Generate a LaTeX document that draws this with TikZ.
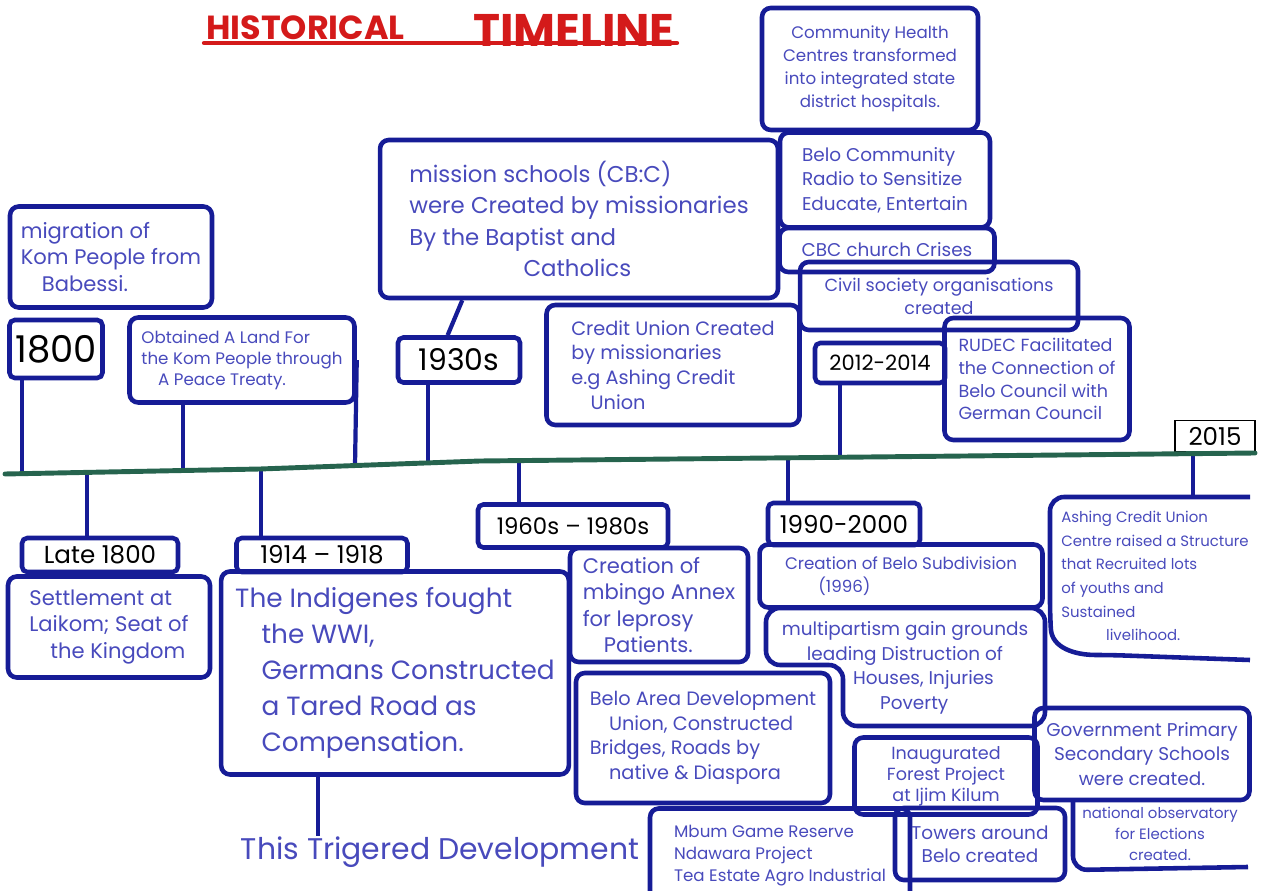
\documentclass[tikz,border=0pt]{standalone}
\usepackage{fontspec}
\setmainfont{Poppins}
\usetikzlibrary{calc}
\definecolor{inkblue}{RGB}{22,28,150}
\definecolor{penblue}{RGB}{72,74,188}
\definecolor{axisgreen}{RGB}{38,100,78}
\definecolor{titlered}{RGB}{212,26,26}

\begin{document}
\begin{tikzpicture}[x=0.02cm,y=-0.02cm,
  evbox/.style={draw=inkblue, line width=2.6pt, rounded corners=5pt, text=penblue, inner sep=3pt, align=left, font=\fontsize{11}{14}\selectfont},
  evline/.style={draw=inkblue, line width=2.6pt, rounded corners=8pt},
  evtext/.style={text=penblue, inner sep=0pt, align=center, font=\fontsize{10}{14}\selectfont},
  yearbox/.style={draw=inkblue, line width=2.6pt, rounded corners=3pt, text=black, inner sep=1pt, font=\fontsize{14}{15}\selectfont},
  link/.style={draw=inkblue, line width=2.4pt},
  timeaxis/.style={draw=axisgreen, line width=2.8pt, line cap=round}]
\useasboundingbox (0,0) rectangle (1261,891);

% title
\node[font=\fontsize{19}{19}\selectfont\bfseries, text=titlered, anchor=south west, inner sep=0pt] (histw) at (206,40) {HISTORICAL};
\node[font=\fontsize{26}{26}\selectfont\bfseries, text=titlered, anchor=south east, inner sep=0pt] (timew) at (675,47) {TIMELINE};
\draw[titlered, line width=2.4pt, line cap=round] ($(histw.south west)+(-2,3)$) -- ($(timew.south east)+(2,-4)$);

% above the line
\node[evbox, minimum width=4.04cm, minimum height=2.02cm, font=\fontsize{12}{15}\selectfont] (migr) at (111,257) {migration of\\Kom People from\\\quad Babessi.};
\node[yearbox, minimum width=1.86cm, minimum height=1.16cm, font=\fontsize{21}{21}\selectfont] (y1800) at (56,349) {1800};
\node[evbox, minimum width=4.5cm, minimum height=1.7cm, font=\fontsize{9.5}{12}\selectfont] (treaty) at (242,360) {Obtained A Land For\\the Kom People through\\\quad A Peace Treaty.};
\node[evbox, minimum width=7.96cm, minimum height=3.16cm, font=\fontsize{13}{18}\selectfont] (mission) at (579,219) {mission schools (CB:C)\\were Created by missionaries\\By the Baptist and\\\hspace{5em}Catholics};
\node[yearbox, minimum width=2.44cm, minimum height=0.9cm, font=\fontsize{17}{17}\selectfont] (y1930) at (459,360) {1930s};
\node[evbox, minimum width=5.06cm, minimum height=2.4cm] (credit) at (673,365) {Credit Union Created\\by missionaries\\e.g Ashing Credit\\\quad Union};
\node[evbox, minimum width=4.32cm, minimum height=2.44cm, align=center, font=\fontsize{9.5}{13}\selectfont] (health) at (870,69) {Community Health\\Centres transformed\\into integrated state\\district hospitals.};
\node[evbox, minimum width=4.2cm, minimum height=1.9cm, font=\fontsize{10.5}{14}\selectfont] (radio) at (885,180) {Belo Community\\Radio to Sensitize\\Educate, Entertain};
\node[evbox, minimum width=4.3cm, minimum height=0.88cm, font=\fontsize{10.5}{12}\selectfont] (cbc) at (887,250) {CBC church Crises};
\node[evbox, minimum width=5.56cm, minimum height=1.36cm, align=center, font=\fontsize{10}{13}\selectfont] (civil) at (939,296) {Civil society organisations\\created};
\node[yearbox, minimum width=2.6cm, minimum height=0.8cm, font=\fontsize{12}{13}\selectfont] (y2012) at (880,363) {2012-2014};
\node[evbox, minimum width=3.7cm, minimum height=2.44cm, font=\fontsize{10}{13}\selectfont] (rudec) at (1037,379) {RUDEC Facilitated\\the Connection of\\Belo Council with\\German Council};
\node[draw=black, line width=0.7pt, text=black, inner sep=1pt, minimum width=1.6cm, minimum height=0.62cm, font=\fontsize{14}{14}\selectfont] (y2015) at (1215,436) {2015};

% below the line
\node[yearbox, minimum width=3.12cm, minimum height=0.68cm] (late1800) at (100,555) {Late 1800};
\node[evbox, minimum width=4.04cm, minimum height=2.02cm, font=\fontsize{12}{15}\selectfont] (settle) at (109,627) {Settlement at\\Laikom; Seat of\\\quad the Kingdom};
\node[yearbox, minimum width=3.42cm, minimum height=0.68cm] (y1914) at (322,555) {1914 -- 1918};
\node[evbox, minimum width=6.8cm, minimum height=4.06cm, inner sep=8pt, font=\fontsize{15}{20.5}\selectfont] (wwi) at (395,673) {The Indigenes fought\\\quad the WWI,\\\quad Germans Constructed\\\quad a Tared Road as\\\quad Compensation.};
\node[text=penblue, inner sep=0pt, font=\fontsize{17}{17}\selectfont] (trigger) at (440,852) {This Trigered Development};
\node[yearbox, minimum width=3.8cm, minimum height=0.86cm, font=\fontsize{13}{14}\selectfont] (y1960) at (573,526) {1960s -- 1980s};
\node[evbox, minimum width=3.56cm, minimum height=2.28cm, font=\fontsize{12}{15}\selectfont] (mbingo) at (659,605) {Creation of\\mbingo Annex\\for leprosy\\\quad Patients.};
\node[evbox, minimum width=5.08cm, minimum height=2.6cm] (bado) at (703,738) {Belo Area Development\\\quad Union, Constructed\\Bridges, Roads by\\\quad native \& Diaspora};
\node[evbox, minimum width=5.2cm, minimum height=1.9cm, font=\fontsize{9.5}{12.5}\selectfont] (mbum) at (780,856) {Mbum Game Reserve\\Ndawara Project\\Tea Estate Agro Industrial};
\node[yearbox, minimum width=3.04cm, minimum height=0.84cm] (y1990) at (844,524) {1990-2000};
\node[evbox, minimum width=5.66cm, minimum height=1.26cm, font=\fontsize{9.5}{13}\selectfont] (subdiv) at (901,576) {Creation of Belo Subdivision\\\quad\quad (1996)};
\draw[evline] (766,608) -- (1045,608) -- (1045,726) -- (843,726) -- (843,665) -- (766,665) -- cycle;
\node[evtext, font=\fontsize{10.5}{14}\selectfont] (multi) at (905,668) {multipartism gain grounds\\leading Distruction of\\\quad\quad Houses, Injuries\\\quad Poverty};
\node[evbox, minimum width=3.66cm, minimum height=1.54cm, align=center, font=\fontsize{10}{12}\selectfont] (forest) at (946,776) {Inaugurated\\Forest Project\\at Ijim Kilum};
\node[evbox, minimum width=3.4cm, minimum height=1.44cm, align=center, font=\fontsize{10.5}{13}\selectfont] (towers) at (980,844) {Towers around\\Belo created};
\draw[evline] (1250,497) -- (1050,497) -- (1050,615) .. controls (1052,648) and (1075,655) .. (1110,655) -- (1250,660);
\node[evtext, align=left, font=\fontsize{8.5}{13.5}\selectfont] (ashing) at (1155,576) {Ashing Credit Union\\Centre raised a Structure\\that Recruited lots\\of youths and\\Sustained\\\hspace{3em}livelihood.};
\coordinate (ashtop) at (1193,497);
\node[evbox, minimum width=4.3cm, minimum height=1.84cm, align=center, font=\fontsize{10.5}{14}\selectfont] (gov) at (1142,754) {Government Primary\\Secondary Schools\\were created.};
\draw[evline] (1073,800) -- (1073,870) -- (1248,867);
\node[evtext, font=\fontsize{8.5}{12}\selectfont] (observ) at (1160,834) {national observatory\\for Elections\\created.};

% connectors to the time line
\coordinate (c1800) at (22,473.7);
\coordinate (cland) at (183,470.5);
\coordinate (cland2) at (355,465.5);
\coordinate (c1930) at (428,463);
\coordinate (c2012) at (840,457.3);
\coordinate (clate) at (87,472.4);
\coordinate (c1914) at (261,469);
\coordinate (c1960) at (519,460.6);
\coordinate (c1990) at (788,457.8);
\coordinate (c2015) at (1193,453.7);
\coordinate (trigtop) at (318,836);
\draw[link] (c1800) -- (c1800 |- y1800.south);
\draw[link] (cland) -- (cland |- treaty.south);
\draw[link] (cland2) -- (treaty.east);
\draw[link] (c1930) -- (c1930 |- y1930.south);
\draw[link] ($(mission.south west)!0.21!(mission.south east)$) -- ($(y1930.north west)!0.41!(y1930.north east)$);
\draw[link] (c2012) -- (c2012 |- y2012.south);
\draw[link] (clate) -- (clate |- late1800.north);
\draw[link] (c1914) -- (c1914 |- y1914.north);
\draw[link] (c1960) -- (c1960 |- y1960.north);
\draw[link] (c1990) -- (c1990 |- y1990.north);
\draw[link] (c2015) -- (ashtop);
\draw[link] (trigtop |- wwi.south) -- (trigtop);

% time line
\draw[timeaxis] (5,474) -- (260,469) -- (480,461) -- (1255,453);
\end{tikzpicture}
\end{document}
